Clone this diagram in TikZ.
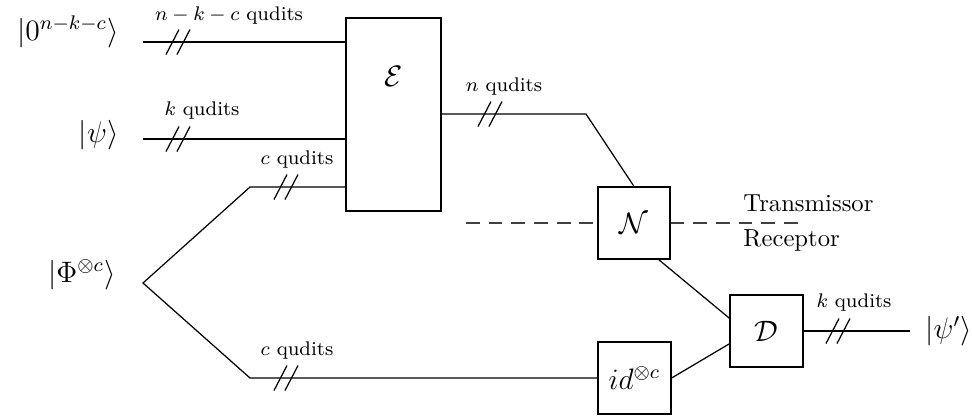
\documentclass[tikz,border=0pt]{standalone}
\usepackage{amsmath}
\newcommand\pxu{0.4057pt}
\begin{document}
\begin{tikzpicture}[x=0.4057pt,y=-0.4057pt,
  wire/.style={line width=0.5pt},
  gatebox/.style={draw,line width=0.5pt,inner sep=0pt,font=\large},
  ket/.style={inner sep=0pt,font=\large},
  qlabel/.style={inner sep=0pt,font=\footnotesize},
  sidelabel/.style={inner sep=0pt,anchor=west},
  bus/.pic={\draw[line width=0.5pt] (-12,12.5) -- (1,-12.5) (-1,12.5) -- (12,-12.5);}
]
\useasboundingbox (0,0) rectangle (972,417);

% boxes
\node[gatebox,minimum width={95*\pxu},minimum height={193*\pxu}] (E) at (393.5,114.5) {};
\node[inner sep=0pt,font=\large] (Elab) at (393.5,76) {$\mathcal{E}$};
\node[gatebox,minimum width={72*\pxu},minimum height={72*\pxu}] (N) at (634,223) {$\mathcal{N}$};
\node[gatebox,minimum width={73*\pxu},minimum height={72*\pxu}] (D) at (766.5,331) {$\mathcal{D}$};
\node[gatebox,minimum width={73*\pxu},minimum height={72*\pxu}] (I) at (634.5,378) {$id^{\otimes c}$};

% kets
\node[ket,anchor=east] (k0) at (119,32) {$|0^{n-k-c}\rangle$};
\node[ket,anchor=east] (kpsi) at (119,135) {$|\psi\rangle$};
\node[ket,anchor=east] (kphi) at (116,275) {$|\Phi^{\otimes c}\rangle$};
\node[ket,anchor=west] (kout) at (925,331) {$|\psi'\rangle$};

% wire coordinates
\coordinate (a0) at (143,42);
\coordinate (b0) at (143,139);
\coordinate (v) at (143,283);
\coordinate (cu) at (250,187);
\coordinate (cl) at (250,378);
\coordinate (n1) at (586,114);
\coordinate (o1) at (910,331);
\coordinate (dl) at (466,223);
\coordinate (dr) at (803,223);

% wires
\draw[wire] (a0) -- (a0 -| E.west);
\draw[wire] (b0) -- (b0 -| E.west);
\draw[wire] (cu -| E.west) -- (cu) -- (v) -- (cl) -- (I.west);
\draw[wire] (E.east |- n1) -- (n1) -- (N.north);
\draw[wire] (N.-56) -- (D.161);
\draw[wire] (I.east) -- (D.199);
\draw[wire] (D.east) -- (o1);

% dashed separator
\draw[line width=0.5pt,black!75,dash pattern=on 5.6pt off 3.6pt] (dl) -- (N.west);
\draw[line width=0.5pt,black!75,dash pattern=on 5.6pt off 3.6pt] (N.east) -- (dr);
\node[sidelabel] (tx) at (743,203) {Transmissor};
\node[sidelabel] (rx) at (743,240) {Receptor};

% bus slashes
\pic at (178,42) {bus};
\pic at (178,139) {bus};
\pic at (286,187) {bus};
\pic at (286,378) {bus};
\pic at (490,114) {bus};
\pic at (838,331) {bus};

% qudit labels
\node[qlabel] (l1) at (229,16) {$n-k-c$ qudits};
\node[qlabel] (l2) at (202,111) {$k$ qudits};
\node[qlabel] (l3) at (297,160) {$c$ qudits};
\node[qlabel] (l4) at (297,351) {$c$ qudits};
\node[qlabel] (l5) at (504,87) {$n$ qudits};
\node[qlabel] (l6) at (854,303) {$k$ qudits};
\end{tikzpicture}
\end{document}
